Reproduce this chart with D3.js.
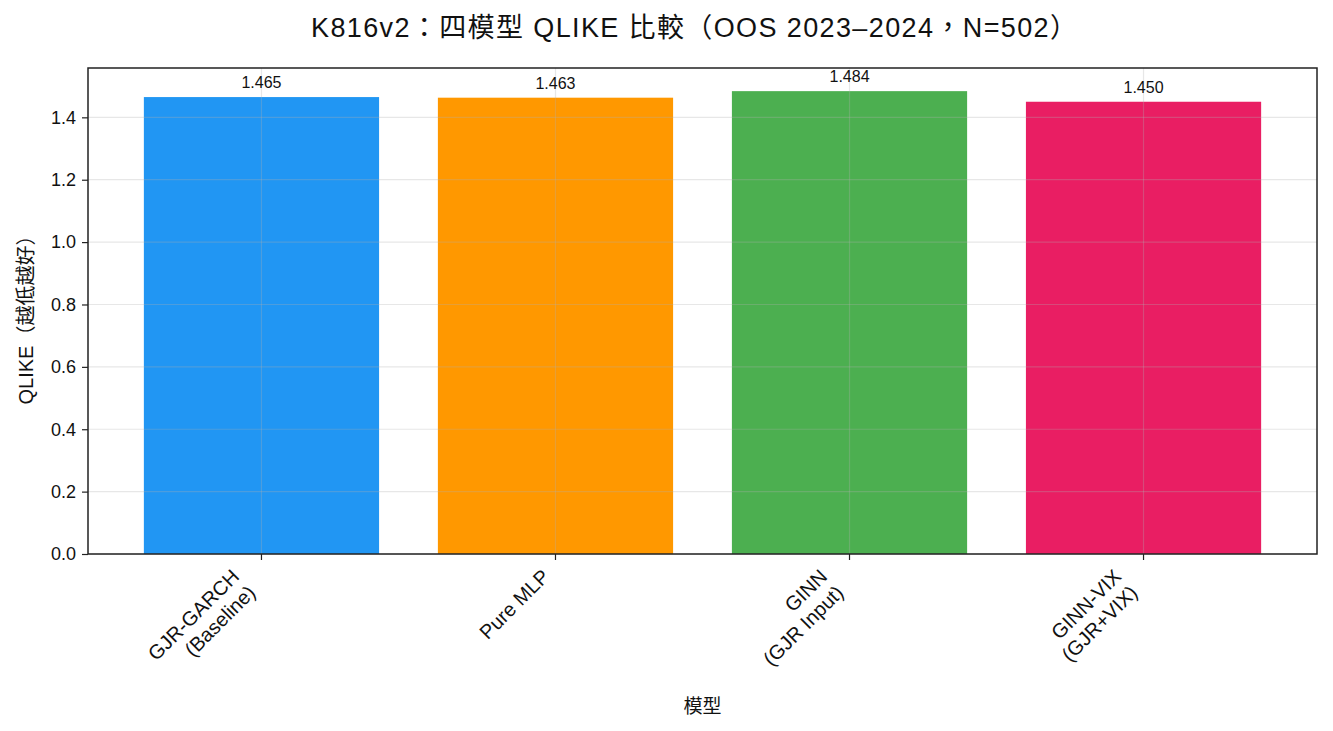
<!DOCTYPE html>
<html>
<head>
<meta charset="utf-8">
<script src="https://cdn.jsdelivr.net/npm/d3@7"></script>
<style>
  body { margin: 0; background: #fff; }
  text { font-family: "Liberation Sans", "Noto Sans CJK TC", sans-serif; fill: #111; }
</style>
</head>
<body>
<svg id="chart"></svg>
<script>
const models = [["GJR-GARCH", "(Baseline)"], ["Pure MLP"], ["GINN", "(GJR Input)"], ["GINN-VIX", "(GJR+VIX)"]];
const qlike = [1.465, 1.463, 1.484, 1.450];
const colors = ["#2196F3", "#FF9800", "#4CAF50", "#E91E63"];
const yTicks = [0, 0.2, 0.4, 0.6, 0.8, 1.0, 1.2, 1.4];

const W = 1333, H = 731;
const margin = { top: 68, right: 16, bottom: 177, left: 88 };
const width = W - margin.left - margin.right;
const height = H - margin.top - margin.bottom;

const svg = d3.select("#chart").attr("width", W).attr("height", H);

// matplotlib-like limits: bars 0.8 wide, 5% margins
const xScale = d3.scaleLinear().domain([-0.59, 3.59]).range([0, width]);
const yScale = d3.scaleLinear().domain([0, d3.max(qlike) * 1.05]).range([height, 0]);

const g = svg.append("g").attr("transform", `translate(${margin.left},${margin.top})`);

// bars
g.append("g").selectAll("rect")
  .data(qlike)
  .join("rect")
  .attr("x", (d, i) => xScale(i - 0.4))
  .attr("width", xScale(0.8) - xScale(0))
  .attr("y", d => yScale(d))
  .attr("height", d => yScale(0) - yScale(d))
  .attr("fill", (d, i) => colors[i]);

// grid drawn over bars
const grid = g.append("g").attr("stroke", "#b0b0b0").attr("stroke-opacity", 0.3).attr("stroke-width", 1.2);
grid.selectAll("line.h")
  .data(yTicks)
  .join("line")
  .attr("class", "h")
  .attr("x1", 0).attr("x2", width)
  .attr("y1", d => yScale(d)).attr("y2", d => yScale(d));
grid.selectAll("line.v")
  .data(qlike.map((d, i) => i))
  .join("line")
  .attr("class", "v")
  .attr("y1", 0).attr("y2", height)
  .attr("x1", d => xScale(d)).attr("x2", d => xScale(d));

// value labels
g.append("g").selectAll("text")
  .data(qlike)
  .join("text")
  .attr("x", (d, i) => xScale(i))
  .attr("y", d => yScale(d) - 9)
  .attr("text-anchor", "middle")
  .attr("font-size", 16)
  .text(d => d.toFixed(3));

// y axis
const yAxis = g.append("g")
  .call(d3.axisLeft(yScale).tickValues(yTicks).tickFormat(d3.format(".1f")).tickSize(6).tickPadding(6));
yAxis.select(".domain").remove();
yAxis.selectAll("line").attr("stroke", "#222").attr("stroke-width", 1.2);
yAxis.selectAll("text").attr("font-size", 18).style("font-family", "Liberation Sans, sans-serif").attr("fill", "#111");

// x axis ticks
const xAxis = g.append("g").attr("transform", `translate(0,${height})`);
xAxis.selectAll("line")
  .data(models)
  .join("line")
  .attr("x1", (d, i) => xScale(i)).attr("x2", (d, i) => xScale(i))
  .attr("y1", 0).attr("y2", 6)
  .attr("stroke", "#222").attr("stroke-width", 1.2);

// rotated multi-line tick labels: bbox right edge on the tick, top under it (ha='right')
xAxis.selectAll("g.lbl")
  .data(models)
  .join("g")
  .attr("class", "lbl")
  .each(function(d, i) {
    const outer = d3.select(this);
    const t = outer.append("text")
      .attr("font-size", 20)
      .attr("text-anchor", "end")
      .attr("transform", "rotate(-45)");
    d.forEach((line, k) => {
      t.append("tspan").attr("x", 0).attr("y", k * 23).text(line);
    });
    const bb = this.getBBox();
    outer.attr("transform", `translate(${xScale(i) - 2 - (bb.x + bb.width)},${11 - bb.y})`);
  });

// frame
g.append("rect")
  .attr("width", width).attr("height", height)
  .attr("fill", "none").attr("stroke", "#222").attr("stroke-width", 1.5);

// axis titles
svg.append("text")
  .attr("x", margin.left + width / 2)
  .attr("y", 713)
  .attr("text-anchor", "middle")
  .attr("font-size", 19)
  .text("模型");

svg.append("text")
  .attr("transform", `translate(33,${margin.top + height / 2 + 4}) rotate(-90)`)
  .attr("text-anchor", "middle")
  .attr("font-size", 20)
  .text("QLIKE（越低越好）");

svg.append("text")
  .attr("x", 694)
  .attr("y", 37)
  .attr("text-anchor", "middle")
  .attr("font-size", 27)
  .attr("textLength", 766)
  .attr("lengthAdjust", "spacing")
  .text("K816v2：四模型 QLIKE 比較（OOS 2023–2024，N=502）");
</script>
</body>
</html>
